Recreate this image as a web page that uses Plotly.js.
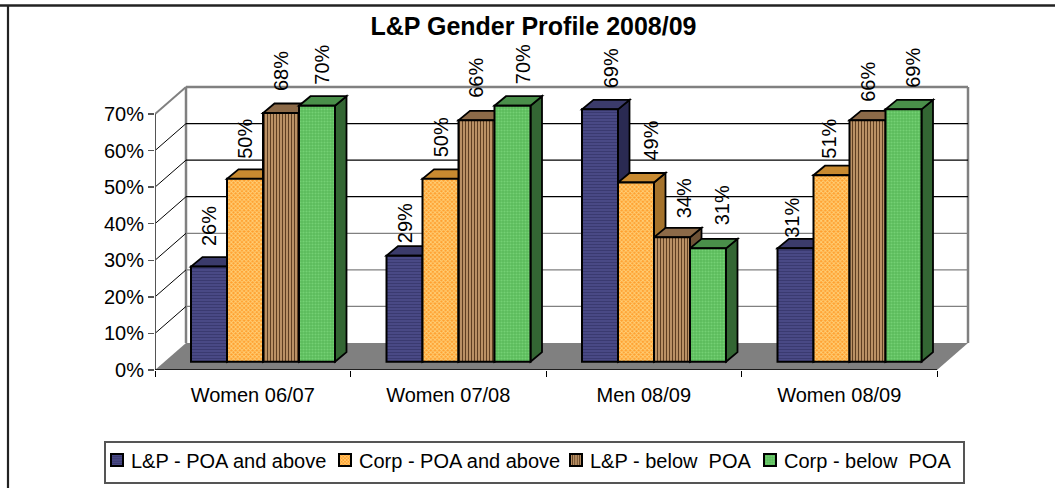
<!DOCTYPE html>
<html><head><meta charset="utf-8">
<script src="https://cdn.plot.ly/plotly-3.0.1.min.js"></script>
<style>html,body{margin:0;padding:0;background:#fff;overflow:hidden}#c{width:1055px;height:488px}</style>
</head><body><div id="c"></div>
<script>
const categories = ["Women 06/07","Women 07/08","Men 08/09","Women 08/09"];
const lpAbove = [26,29,69,31];
const corpAbove = [50,50,49,51];
const lpBelow = [68,66,34,66];
const corpBelow = [70,70,31,69];
const seriesNames = ["L&P - POA and above","Corp - POA and above","L&P - below  POA","Corp - below  POA"];
const yTicks = [0,10,20,30,40,50,60,70];
const yTickLabels = ["0%","10%","20%","30%","40%","50%","60%","70%"];
// label placement relative to each bar, [series][category], px
const labelNudgeX = [[0,0,11,-3],[0,0,15,-2],[0,0,12,1],[5,10,14,10]];
const labelGap = [[18.6,10,19,8],[18,19,20,14],[20,20,17,16],[19,19,21,19]];

const W=1055,H=488,L=155,B=370,R=970,T=30;
const PXC=195.5, PXV=3.657;
const X=p=>-0.5+(p-L)/PXC, Y=p=>(B-p)/PXV;
const poly=(pts,fill,lw,lc,layer)=>({type:'path',xref:'x',yref:'y',layer:layer||'below',
  path:'M'+pts.map(p=>p[0]+','+p[1]).join('L')+'Z',fillcolor:fill,line:{color:lc||'#000',width:lw}});
const seg=(x0,y0,x1,y1,c,w)=>({type:'line',xref:'x',yref:'y',layer:'below',x0,y0,x1,y1,line:{color:c,width:w}});
const shapes=[];
const wallDy=27/PXV;
shapes.push(poly([[X(155),0],[X(937),0],[X(968),wallDy],[X(186),wallDy]],'#808080',0,'#808080'));
const xFront=X(155), xBack=X(186), xBackR=X(968);
shapes.push(seg(xBack,wallDy,xBack,70+wallDy,'#808080',2.5));
shapes.push(seg(xBackR,wallDy,xBackR,70+wallDy,'#808080',2.5));
shapes.push(seg(xBack,70+wallDy,xBackR,70+wallDy,'#808080',2.5));
shapes.push(seg(xFront,70,xBack,70+wallDy,'#808080',2));
yTicks.slice(1,7).forEach(v=>{
  const c = v>=40 ? '#000' : '#808080';
  shapes.push(seg(xBack,v+wallDy,xBackR,v+wallDy,c,1.3));
  shapes.push(seg(xFront,v,xBack,v+wallDy,'#000',1));
});
shapes.push(seg(xFront,0,xFront,70,'#555',2));
shapes.push(seg(xFront,0,X(937),0,'#000',1.5));

const barPx=36, gStart=191-(155+PXC/2);
const barW=barPx/PXC, base=8.3/PXV, depthX=11.5/PXC, depthY=9.5/PXV;
const series=[lpAbove,corpAbove,lpBelow,corpBelow];
const looks=[
 {bg:'#50508f',fg:'#3a3a70',shape:'-',size:3,sol:0.55,top:'#3b3b6b',side:'#2a2a52'},
 {bg:'#ff9f2e',fg:'#ffd27a',shape:'x',size:3,sol:0.5,top:'#c88a30',side:'#a5732c'},
 {bg:'#c49a6c',fg:'#5f3f22',shape:'|',size:3,sol:0.4,top:'#8c6a48',side:'#6e5236'},
 {bg:'#5cbb5c',fg:'#74d074',shape:'.',size:3,sol:0.4,top:'#4a8f4a',side:'#336633'}
];
const traces=[], annotations=[];
series.forEach((vals,si)=>{
  const off=gStart/PXC + si*barW;
  traces.push({type:'bar',name:seriesNames[si],x:categories,y:vals,base:base,offset:off,width:barW,
    marker:{color:looks[si].bg,line:{color:'#000',width:2},
      pattern:{shape:looks[si].shape,size:looks[si].size,solidity:looks[si].sol,fgcolor:looks[si].fg,bgcolor:looks[si].bg}},
    hoverinfo:'skip',cliponaxis:false});
  vals.forEach((v,ci)=>{
    const x0=ci+off,x1=x0+barW,y0=base,y1=base+v;
    shapes.push(poly([[x1,y0],[x1+depthX,y0+depthY],[x1+depthX,y1+depthY],[x1,y1]],looks[si].side,1.8));
    shapes.push(poly([[x0,y1],[x1,y1],[x1+depthX,y1+depthY],[x0+depthX,y1+depthY]],looks[si].top,1.8));
    annotations.push({xref:'x',yref:'y',x:(x0+x1)/2,y:y1,yanchor:'bottom',xanchor:'center',
      xshift:labelNudgeX[si][ci],yshift:labelGap[si][ci],
      text:v+'%',textangle:-90,showarrow:false,font:{family:'Liberation Sans, Arial, sans-serif',size:20,color:'#000'}});
  });
});
const frame=[
 {type:'line',xref:'paper',yref:'paper',x0:-L/(R-L),x1:(W-L)/(R-L),y0:(B-5.5)/(B-T),y1:(B-5.5)/(B-T),line:{color:'#222',width:2.5}},
 {type:'line',xref:'paper',yref:'paper',x0:(8-L)/(R-L),x1:(8-L)/(R-L),y0:(B-5)/(B-T),y1:(B-H-5)/(B-T),line:{color:'#222',width:2.2}}
];
const fontFam='Liberation Sans, Arial, sans-serif';
const layout={
  width:W,height:H,paper_bgcolor:'#fff',plot_bgcolor:'rgba(0,0,0,0)',
  margin:{l:L,r:W-R,t:T,b:H-B},barmode:'overlay',showlegend:true,
  title:{text:'<b>L&P Gender Profile 2008/09</b>',x:533.5/W,xanchor:'center',y:1-26.5/H,yanchor:'middle',
    font:{family:fontFam,size:25,color:'#000'}},
  font:{family:fontFam,size:20,color:'#000'},
  xaxis:{type:'category',categoryorder:'array',categoryarray:categories,range:[-0.5,X(R)],tickson:'boundaries',
    ticks:'outside',ticklen:6,tickcolor:'#000',tickwidth:1,showgrid:false,zeroline:false,showline:false,
    tickfont:{size:20},ticklabelstandoff:11,automargin:false},
  yaxis:{range:[0,(B-T)/PXV],tickvals:yTicks,ticktext:yTickLabels,ticks:'outside',ticklen:6,tickcolor:'#555',tickwidth:1.5,
    showgrid:false,zeroline:false,showline:false,tickfont:{size:20},automargin:false},
  legend:{orientation:'h',xref:'container',yref:'container',x:104/W,xanchor:'left',y:1-441/H,yanchor:'top',
    bgcolor:'#fff',bordercolor:'#555',borderwidth:1.5,font:{size:20},entrywidthmode:'pixels',entrywidth:150,traceorder:'normal'},
  shapes:shapes.concat(frame),annotations
};
const legendTextStart=[131,359,590,784];
const legendBoxW=859, legendBoxH=41, legendRowY=19;
Plotly.newPlot('c',traces,layout,{displayModeBar:false,staticPlot:true}).then(()=>{
  const root=document.getElementById('c');
  root.querySelectorAll('.legend rect.bg').forEach(r=>{r.setAttribute('width',legendBoxW);r.setAttribute('height',legendBoxH);});
  root.querySelectorAll('clipPath[id*="legend"] rect').forEach(r=>{r.setAttribute('width',legendBoxW);r.setAttribute('height',legendBoxH);});
  root.querySelectorAll('.legend .traces').forEach((g,i)=>{
    g.setAttribute('transform','translate('+(legendTextStart[i]-104-27)+','+legendRowY+')');
    const t=g.querySelector('text.legendtext'); if(t) t.setAttribute('x',27);
    g.querySelectorAll('.legendpoints path, .legendbar path').forEach(p=>p.setAttribute('transform','translate(13,0)'));
  });
});
</script></body></html>
